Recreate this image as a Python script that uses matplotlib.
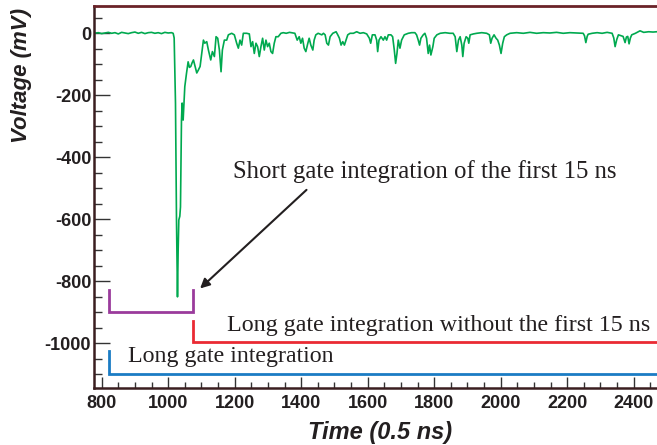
import matplotlib.pyplot as plt

plt.rcParams['axes.unicode_minus'] = False

# waveform samples: time (0.5 ns units) and voltage (mV)
time_pts = [777, 790, 800, 810, 820, 830, 840, 850, 860, 870, 880, 890, 900, 910, 920,
            930, 940, 950, 960, 970, 980, 990, 1000, 1010, 1015,
            1018, 1022, 1025, 1028, 1030, 1032, 1035, 1037, 1040, 1042, 1045, 1050, 1055,
            1060, 1064, 1068, 1072, 1076, 1081, 1086, 1091, 1096, 1101, 1106, 1110, 1116,
            1121, 1128, 1133, 1139, 1144, 1149, 1154, 1159, 1163, 1169, 1176, 1181, 1191,
            1199, 1206, 1211, 1216, 1221, 1226, 1236, 1244, 1249, 1254, 1259, 1264, 1269,
            1274, 1279, 1284, 1289, 1294, 1299, 1304, 1309, 1314, 1319, 1324, 1331, 1339,
            1346, 1355, 1365, 1375, 1381, 1388, 1394, 1399, 1404, 1409, 1414, 1420, 1424,
            1429, 1435, 1439, 1444, 1451, 1462, 1467, 1472, 1477, 1482, 1487, 1495, 1505,
            1510, 1515, 1520, 1525, 1530, 1535, 1540, 1547, 1557, 1567, 1577, 1587, 1597,
            1605, 1609, 1614, 1622, 1627, 1630, 1634, 1640, 1647, 1652, 1657, 1662, 1670,
            1675, 1680, 1684, 1688, 1692, 1697, 1702, 1710, 1722, 1732, 1742, 1747, 1752,
            1756, 1760, 1767, 1772, 1777, 1782, 1786, 1790, 1796, 1800, 1808, 1818, 1833,
            1847, 1857, 1863, 1868, 1873, 1878, 1883, 1886, 1890, 1896, 1901, 1904, 1908,
            1918, 1928, 1943, 1958, 1966, 1970, 1974, 1980, 1986, 1991, 1996, 2001, 2006,
            2011, 2018, 2028, 2048, 2068, 2088, 2108, 2128, 2148, 2168, 2188, 2208, 2228,
            2248, 2252, 2256, 2260, 2263, 2275, 2290, 2305, 2320, 2335, 2340, 2344, 2349,
            2354, 2362, 2368, 2374, 2378, 2382, 2386, 2390, 2394, 2405, 2419, 2430, 2445,
            2458, 2470]
volt_pts = [0, 2, -1, 1, 3, 0, 2, -2, 3, 1, -1, 2, 4, 0, 3,
            -1, 2, 3, 0, 2, -1, 3, 1, 2, 0,
            -15, -225, -600, -850, -700, -602, -590, -560, -280, -225, -280, -172, -130,
            -92, -110, -107, -95, -86, -107, -128, -118, -107, -65, -22, -32, -27,
            -54, -86, -59, -75, -11, -16, -54, -124, -54, -22, -22, -5, 0,
            -5, -32, -48, -22, -38, 0, 0, -2, -43, -27, -65, -32, -43,
            -75, -43, -16, -54, -22, -43, -32, -59, -65, -32, -11, -11, 0,
            2, 0, 3, 1, 0, -22, -11, -32, -16, -48, -59, -32, -16,
            -38, -54, -22, -5, 0, -5, 0, -5, -32, -38, -11, 0, 5,
            -5, -16, -38, -27, -38, -22, -5, 0, 0, 5, 0, 2, -2,
            -16, -32, -5, -5, -22, -59, -22, -11, -22, -11, -22, -5, -5,
            -11, -54, -97, -65, -22, -48, -22, -5, 0, 2, 2, -5, -22,
            -38, -16, -5, 0, -16, -65, -38, -70, -43, -16, -5, 0, 2,
            0, 0, -11, -59, -22, -11, -38, -75, -32, -11, -16, -32, -5,
            -2, 0, 2, 0, -5, -32, -16, -5, -16, -22, -38, -65, -32,
            -11, -5, 0, 2, 0, 3, 0, 2, 1, 3, 0, 2, 1,
            0, -8, -30, -10, -3, 0, 2, 0, 3, 0, -15, -43, -20,
            -5, -8, -10, -30, -12, -10, -34, -15, -5, 0, 8, 3, 5,
            4, 5]

# integration gates (bracket shapes)
short_gate_x = [822, 822, 1074, 1074]
short_gate_y = [-828, -900, -900, -828]
long_tail_x = [1074, 1074, 2470]
long_tail_y = [-927, -997, -997]
long_gate_x = [822, 822, 2470]
long_gate_y = [-1024, -1099, -1099]

fig = plt.figure(figsize=(6.57, 4.45), dpi=100)
ax = fig.add_axes([0.1431, 0.1281, 0.8569, 0.8584])

ax.plot(time_pts, volt_pts, color='#00a94f', lw=1.2)
ax.plot(short_gate_x, short_gate_y, color='#9a3b9c', lw=2.0, solid_joinstyle='miter')
ax.plot(long_tail_x, long_tail_y, color='#ea2a33', lw=2.0, solid_joinstyle='miter')
ax.plot(long_gate_x, long_gate_y, color='#1b7cc4', lw=2.0, solid_joinstyle='miter')

serif = 'Liberation Serif'
ax.text(1195, -447, 'Short gate integration of the first 15 ns', family=serif,
        fontsize=17.8, color='#231f20', va='center', ha='left')
ax.text(1177, -944, 'Long gate integration without the first 15 ns', family=serif,
        fontsize=17.3, color='#231f20', va='center', ha='left')
ax.text(879, -1041, 'Long gate integration', family=serif,
        fontsize=17.2, color='#231f20', va='center', ha='left')
ax.annotate('', xy=(1096, -823), xytext=(1416, -505),
            arrowprops=dict(arrowstyle='-|>', color='#231f20', lw=1.5,
                            mutation_scale=14, shrinkA=0, shrinkB=0))

ax.set_xlim(777, 2470)
ax.set_ylim(-1144, 88)
ax.set_xticks(range(800, 2401, 200))
ax.set_xticks(range(800, 2451, 50), minor=True)
ax.set_yticks(range(-1000, 1, 200))
ax.set_yticks(range(-1100, 51, 50), minor=True)

sans = 'Liberation Sans'
for lab in ax.get_xticklabels() + ax.get_yticklabels():
    lab.set_family(sans)
    lab.set_fontweight('bold')
    lab.set_fontsize(13)
    lab.set_color('#231f20')

ax.tick_params(axis='x', which='major', direction='in', length=8, width=1, pad=5, color='#333333')
ax.tick_params(axis='x', which='minor', direction='in', length=4.3, width=1, color='#333333')
ax.tick_params(axis='y', which='major', direction='in', length=11.5, width=1, pad=2, color='#333333')
ax.tick_params(axis='y', which='minor', direction='in', length=5.8, width=1, color='#333333')

ax.spines['right'].set_visible(False)
ax.spines['top'].set_color('#6a2228')
ax.spines['top'].set_linewidth(2)
ax.spines['left'].set_color('#3a1e20')
ax.spines['left'].set_linewidth(1.8)
ax.spines['bottom'].set_color('#3a1e20')
ax.spines['bottom'].set_linewidth(1.8)

fig.text(0.033, 0.831, 'Voltage (mV)', family=sans, fontweight='bold', fontstyle='italic',
         fontsize=16, rotation=90, ha='center', va='center', color='#231f20')
fig.text(0.578, 0.029, 'Time (0.5 ns)', family=sans, fontweight='bold', fontstyle='italic',
         fontsize=17, ha='center', va='center', color='#231f20')

fig.savefig('out.png', dpi=100)
